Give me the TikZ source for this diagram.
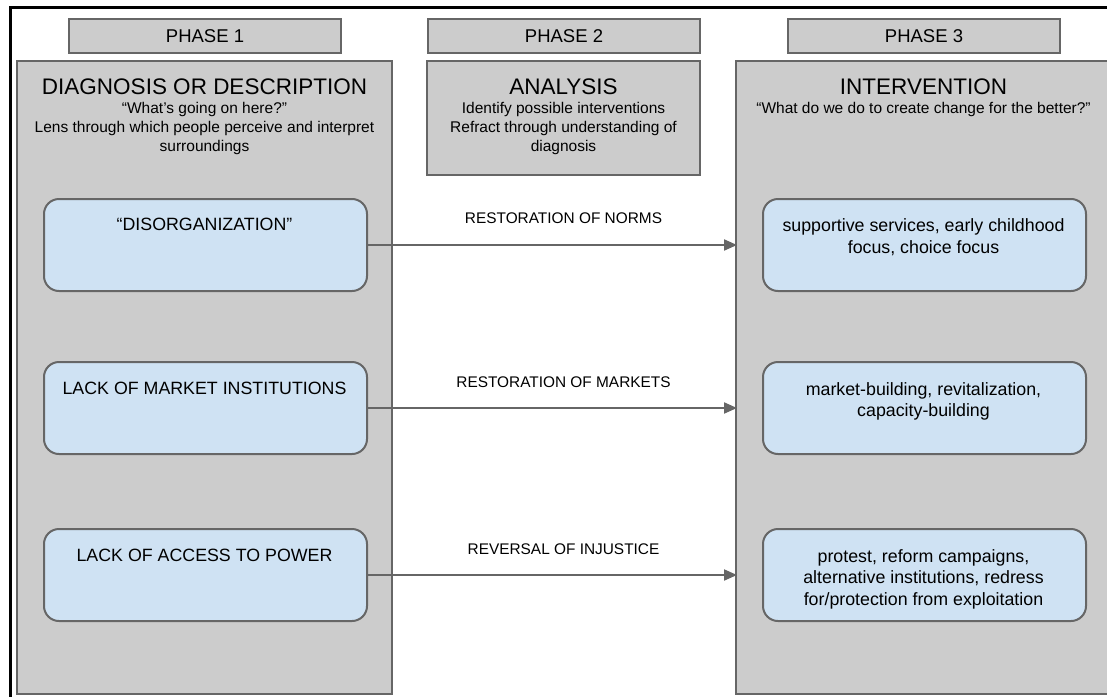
\documentclass[tikz,border=0pt]{standalone}
\usepackage{fontspec}
\setmainfont{Liberation Sans}
\usetikzlibrary{arrows.meta}
\definecolor{panelgray}{HTML}{CCCCCC}
\definecolor{edgegray}{HTML}{666666}
\definecolor{boxblue}{HTML}{CFE2F3}
\tikzset{
  phasehdr/.style={draw=edgegray, fill=panelgray, line width=2pt, minimum width=272pt, minimum height=34pt, anchor=north west, inner sep=0pt},
  phasetxt/.style={font=\fontsize{18.5}{21}\selectfont, inner sep=0pt},
  panel/.style={draw=edgegray, fill=panelgray, line width=2pt},
  titletxt/.style={font=\fontsize{22.5}{26}\selectfont, inner sep=0pt},
  subtxt/.style={font=\fontsize{15.5}{19}\selectfont, align=center, inner sep=0pt, anchor=north},
  stepbox/.style={draw=edgegray, fill=boxblue, line width=2pt, rounded corners=15pt, minimum width=323pt, minimum height=92pt, anchor=north west, inner sep=0pt},
  boxtxt/.style={font=\fontsize{17.8}{21.5}\selectfont, align=center, inner sep=0pt, anchor=north},
  arrowlbl/.style={font=\fontsize{15.4}{18}\selectfont, inner sep=0pt},
  conn/.style={draw=edgegray, line width=2pt, -{Triangle[length=13pt,width=11pt]}}
}
\begin{document}
\begin{tikzpicture}[x=1pt,y=-1pt]
\clip (0,0) rectangle (1107,696);
\fill[white] (0,0) rectangle (1107,696);
% outer frame
\draw[black, line width=2.5pt] (10.5,700) -- (10.5,7.5) -- (1110,7.5);
% headers
\node[phasehdr] (h1) at (68,18) {};
\node[phasehdr] (h2) at (427,18) {};
\node[phasehdr] (h3) at (787,18) {};
\node[phasetxt] (h1t) at (h1.center) {PHASE 1};
\node[phasetxt] (h2t) at (h2.center) {PHASE 2};
\node[phasetxt] (h3t) at (h3.center) {PHASE 3};
% panels
\draw[panel] (17,61) rectangle (392,694);
\draw[panel] (427,61) rectangle (700,175);
\draw[panel] (736,61) rectangle (1115,694);
\coordinate (p3w) at (737,61);
% panel texts
\node[titletxt] (t1) at (204.5,87) {DIAGNOSIS OR DESCRIPTION};
\node[subtxt] (s1) at (204.5,102) {“What’s going on here?”\\Lens through which people perceive and interpret\\surroundings};
\node[titletxt] (t2) at (563.5,87) {ANALYSIS};
\node[subtxt] (s2) at (563.5,102) {Identify possible interventions\\Refract through understanding of\\diagnosis};
\node[titletxt] (t3) at (923.5,87) {INTERVENTION};
\node[subtxt] (s3) at (923.5,102) {“What do we do to create change for the better?”};
% left boxes
\node[stepbox] (l1) at (43,198) {};
\node[stepbox] (l2) at (43,361) {};
\node[stepbox] (l3) at (43,528) {};
\node[boxtxt] (l1t) at (204.5,218) {“DISORGANIZATION”};
\node[boxtxt] (l2t) at (204.5,382) {LACK OF MARKET INSTITUTIONS};
\node[boxtxt] (l3t) at (204.5,549) {LACK OF ACCESS TO POWER};
% right boxes
\node[stepbox] (r1) at (762,198) {};
\node[stepbox] (r2) at (762,361) {};
\node[stepbox] (r3) at (762,528) {};
\node[boxtxt] (r1t) at (923.5,218.5) {supportive services, early childhood\\focus, choice focus};
\node[boxtxt] (r2t) at (923.5,382) {market-building, revitalization,\\capacity-building};
\node[boxtxt] (r3t) at (923.5,549) {protest, reform campaigns,\\alternative institutions, redress\\for/protection from exploitation};
% connectors
\draw[conn] (l1.east) -- (l1.east -| p3w);
\draw[conn] (l2.east) -- (l2.east -| p3w);
\draw[conn] (l3.east) -- (l3.east -| p3w);
% connector labels
\node[arrowlbl] (a1) at (563.5,218.5) {RESTORATION OF NORMS};
\node[arrowlbl] (a2) at (563.5,382.5) {RESTORATION OF MARKETS};
\node[arrowlbl] (a3) at (563.5,549.5) {REVERSAL OF INJUSTICE};
\end{tikzpicture}
\end{document}
